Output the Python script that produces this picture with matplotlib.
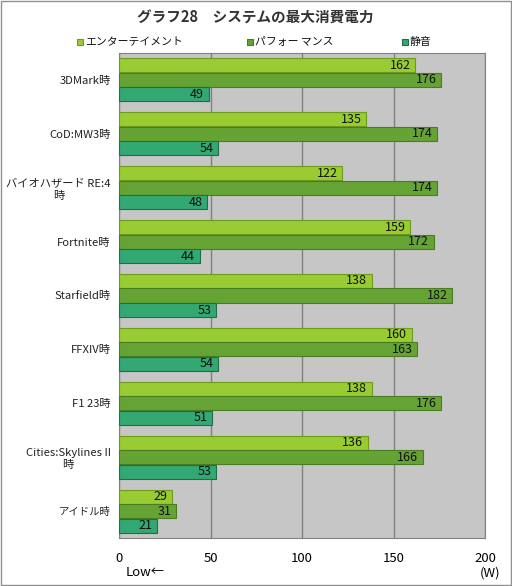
import numpy as np
import matplotlib
matplotlib.use("Agg")
from matplotlib import pyplot as plt

plt.rcParams['font.family'] = ['Noto Sans CJK JP', 'DejaVu Sans']

categories = ["3DMark時", "CoD:MW3時", "バイオハザード RE:4\n時", "Fortnite時", "Starfield時",
              "FFXIV時", "F1 23時", "Cities:Skylines II\n時", "アイドル時"]
entertainment = [162, 135, 122, 159, 138, 160, 138, 136, 29]
performance = [176, 174, 174, 172, 182, 163, 176, 166, 31]
silent = [49, 54, 48, 44, 53, 54, 51, 53, 21]
series_names = ["エンターテイメント", "パフォー マンス", "静音"]
colors = ["#99CC33", "#66A335", "#33A872"]
edges = ["#6E9A1E", "#4A7C22", "#1F6E48"]

fig = plt.figure(figsize=(5.12, 5.86), dpi=100)
fig.patch.set_facecolor("white")
# outer border
fig.add_artist(plt.Rectangle((0.002, 0.002), 0.996, 0.996, transform=fig.transFigure,
                             fill=False, edgecolor="#909090", linewidth=1.0))

ax = fig.add_axes([119/512, 1-538/586, 366/512, 485/586])
ax.set_facecolor("#C6C6C6")

y = np.arange(len(categories))
h = 0.26
offs = [-0.27, 0, 0.27]
for vals, off, c, e in zip([entertainment, performance, silent], offs, colors, edges):
    bars = ax.barh(y + off, vals, height=h, color=c, edgecolor=e, linewidth=0.8, zorder=3)
    for b, v in zip(bars, vals):
        ax.text(v - 2.5, b.get_y() + b.get_height()/2, str(v), ha="right", va="center",
                fontsize=9, color="#111111", zorder=4)

ax.set_xlim(0, 200)
ax.set_ylim(len(categories) - 0.5, -0.5)
ax.set_xticks([0, 50, 100, 150, 200])
ax.xaxis.grid(True, color="#808080", linewidth=1.0, zorder=0)
ax.set_axisbelow(True)
ax.set_yticks(y)
ax.set_yticklabels(categories, fontsize=8.1, ha="right", multialignment="center",
                   linespacing=1.25, color="#222222")
ax.get_yticklabels()[-1].set_fontsize(7.5)
ax.tick_params(axis="y", length=0, pad=6)
ax.tick_params(axis="x", length=0, pad=10, labelsize=9.5)
for s in ax.spines.values():
    s.set_color("#808080")

fig.text(255/512, 1-18/586, "グラフ28\u3000システムの最大消費電力", ha="center", va="center",
         fontsize=10.5, fontweight="bold", color="#333333")

# legend placed like the original
leg_x = [80, 250, 405]
for lx, c, e, n in zip(leg_x, colors, edges, series_names):
    fig.add_artist(plt.Rectangle(((lx - 3)/512, 1-45/586), 6/512, 6/586, transform=fig.transFigure,
                                 facecolor=c, edgecolor=e, linewidth=0.8))
    fig.text((lx + 5)/512, 1-42/586, n, ha="left", va="center", fontsize=7.8, color="#111111")

fig.text(145/512, 1-573/586, "Low←", ha="center", va="center", fontsize=9.5)
fig.text(490/512, 1-573/586, "(W)", ha="center", va="center", fontsize=9.5)

fig.savefig("out.png", dpi=100)
